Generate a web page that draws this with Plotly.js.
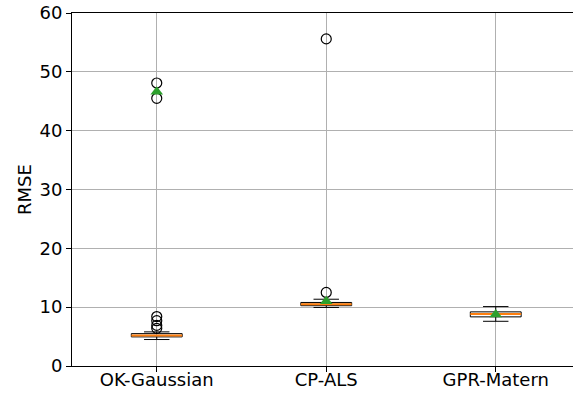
<!DOCTYPE html>
<html>
<head>
<meta charset="utf-8">
<script src="https://cdn.plot.ly/plotly-3.0.1.min.js"></script>
<style>html,body{margin:0;padding:0;background:#fff;}#chart{width:573px;height:394px;}</style>
</head>
<body>
<div id="chart"></div>
<script>
// Data
const categories = ["OK-Gaussian", "CP-ALS", "GPR-Matern"];
const positions = [1, 2, 3];
const lowerWhisker = [4.5, 9.95, 7.6];
const q1 = [4.95, 10.25, 8.35];
const medians = [5.2, 10.5, 8.85];
const q3 = [5.5, 10.8, 9.2];
const upperWhisker = [5.8, 11.35, 10.1];
const means = [46.6, 11.0, 8.75];
const outlierCat = [1, 1, 1, 1, 1, 1, 2, 2];
const outlierVal = [48.1, 45.5, 8.4, 7.7, 6.9, 6.4, 55.6, 12.5];
const yTicks = [0, 10, 20, 30, 40, 50, 60];

const BOX_W = 0.3;
const font = {family: "DejaVu Sans, sans-serif", size: 18, color: "#000"};

const medX = [], medY = [];
positions.forEach((p, i) => {
  medX.push(p - BOX_W / 2, p + BOX_W / 2, null);
  medY.push(medians[i], medians[i], null);
});

const traces = [
  {
    type: "box",
    x: positions,
    q1: q1, median: medians, q3: q3,
    lowerfence: lowerWhisker, upperfence: upperWhisker,
    width: BOX_W,
    whiskerwidth: 0.5,
    boxpoints: false,
    fillcolor: "rgba(255,255,255,0)",
    line: {color: "#000", width: 1},
    hoverinfo: "skip",
    showlegend: false
  },
  {
    type: "scatter", mode: "lines",
    x: medX, y: medY,
    line: {color: "#ff7f0e", width: 2},
    hoverinfo: "skip", showlegend: false
  },
  {
    type: "scatter", mode: "markers",
    x: outlierCat, y: outlierVal,
    marker: {symbol: "circle-open", size: 10, color: "#000", line: {width: 1.2, color: "#000"}},
    showlegend: false
  },
  {
    type: "scatter", mode: "markers",
    x: positions, y: means,
    marker: {symbol: "triangle-up", size: 11, color: "#2ca02c"},
    showlegend: false
  }
];

const layout = {
  width: 573, height: 394,
  margin: {l: 72, r: 0, t: 13, b: 28, pad: 0},
  paper_bgcolor: "#fff", plot_bgcolor: "#fff",
  font: font,
  showlegend: false,
  xaxis: {
    range: [0.5, 3.4558],
    tickmode: "array", tickvals: positions, ticktext: categories,
    showgrid: true, gridcolor: "#b0b0b0", gridwidth: 1,
    zeroline: false,
    showline: true, linecolor: "#000", linewidth: 1, mirror: true,
    ticks: "outside", ticklen: 5, tickcolor: "#000",
    ticklabelstandoff: -8,
    tickfont: font
  },
  yaxis: {
    range: [0, 60],
    tickmode: "array", tickvals: yTicks, ticktext: yTicks.map(String),
    showgrid: true, gridcolor: "#b0b0b0", gridwidth: 1,
    zeroline: false,
    showline: true, linecolor: "#000", linewidth: 1, mirror: false,
    ticks: "outside", ticklen: 5, tickcolor: "#000",
    tickfont: font,
    title: {text: "RMSE", font: font, standoff: 3}
  }
};

Plotly.newPlot("chart", traces, layout, {displayModeBar: false, staticPlot: true});
</script>
</body>
</html>
